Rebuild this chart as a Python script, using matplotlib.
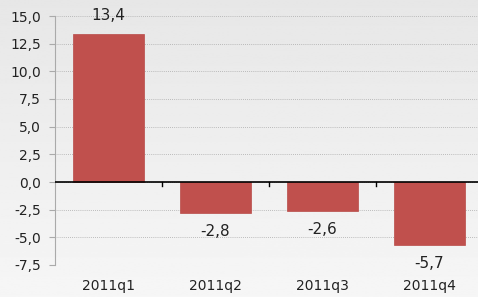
import numpy as np
import matplotlib.pyplot as plt

quarters = ["2011q1", "2011q2", "2011q3", "2011q4"]
values = [13.4, -2.8, -2.6, -5.7]
yticks = [-7.5, -5.0, -2.5, 0.0, 2.5, 5.0, 7.5, 10.0, 12.5, 15.0]

fig = plt.figure(figsize=(4.78, 2.97), dpi=100)

# soft vertical gradient behind everything
bg = fig.add_axes([0, 0, 1, 1], zorder=-1)
grad = np.linspace(0.905, 0.965, 256).reshape(-1, 1)
bg.imshow(grad, aspect="auto", cmap="gray", vmin=0, vmax=1, extent=[0, 1, 0, 1])
bg.axis("off")

ax = fig.add_axes([55 / 478, (297 - 265) / 297, 428 / 478, 249 / 297])
ax.patch.set_alpha(0)

x = np.arange(len(quarters))
ax.bar(x, values, width=0.66, color="#c0504d", edgecolor="#b84a47", linewidth=0.5, zorder=3)

ax.set_xlim(-0.5, 3.5)
ax.set_ylim(-7.5, 15.0)
ax.set_yticks(yticks)
ax.set_yticklabels([f"{v:.1f}".replace(".", ",") for v in yticks], fontsize=10, color="#222222")
ax.yaxis.grid(True, linestyle=(0, (1, 1.5)), color="#aaaaaa", linewidth=0.6, zorder=0)
ax.tick_params(axis="y", length=4, color="#aaaaaa", pad=6)

ax.set_xticks(x)
ax.set_xticklabels(quarters, fontsize=10, color="#222222")
ax.tick_params(axis="x", length=0, pad=10)

for side in ["top", "right", "bottom"]:
    ax.spines[side].set_visible(False)
ax.spines["left"].set_color("#aaaaaa")

ax.axhline(0, color="black", linewidth=1.2, zorder=4)
for b in [0.5, 1.5, 2.5]:
    ax.plot([b, b], [0, -0.4], color="black", linewidth=1.0, zorder=4)

for xi, v in zip(x, values):
    lbl = f"{v:.1f}".replace(".", ",")
    if v >= 0:
        ax.text(xi, v + 1.6, lbl, ha="center", va="center", fontsize=11, color="#222222", zorder=5)
    else:
        ax.text(xi, v - 1.0, lbl, ha="center", va="top", fontsize=11, color="#222222", zorder=5)

fig.savefig("out.png", dpi=100)
